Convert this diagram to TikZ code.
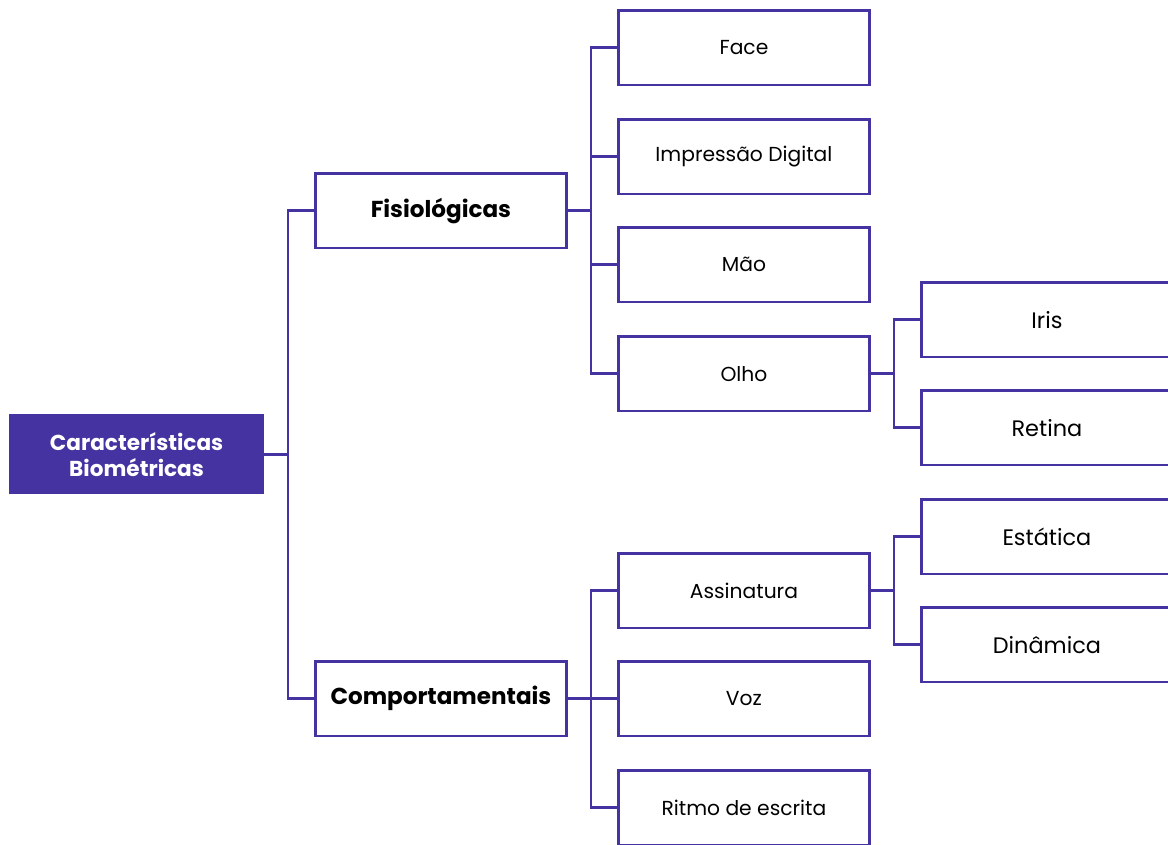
\documentclass[tikz,border=0pt]{standalone}
\usepackage{fontspec}
\setmainfont{Poppins}
\definecolor{indigo}{RGB}{68,51,160}
\begin{document}
\begin{tikzpicture}[x=0.75pt,y=-0.75pt,
  box/.style={draw=indigo,line width=1.9pt,fill=white,minimum width=188.5pt,minimum height=56pt,inner sep=0pt,anchor=north west,text=black},
  lvone/.style={box,font=\fontsize{17.3}{20}\selectfont\bfseries},
  lvtwo/.style={box,font=\fontsize{15.2}{18}\selectfont},
  lvthree/.style={box,font=\fontsize{16.8}{20}\selectfont},
  root/.style={fill=indigo,draw=none,minimum width=191pt,minimum height=60pt,inner sep=0pt,anchor=north west,text=white,align=center,font=\fontsize{16.2}{19.5}\selectfont\bfseries},
  conn/.style={draw=indigo,line width=1.9pt}]
\useasboundingbox (0,0) rectangle (1168,844);
\clip (0,0) rectangle (1168,844);
\node[root] (r) at (9,414) {Características\\Biométricas};
\node[lvone] (f) at (314,172) {Fisiológicas};
\node[lvone] (c) at (314,660) {Comportamentais};
\node[lvtwo] (face) at (617,9) {Face};
\node[lvtwo] (imp) at (617,118) {Impressão Digital};
\node[lvtwo] (mao) at (617,226) {Mão};
\node[lvtwo] (olho) at (617,335) {Olho};
\node[lvtwo] (ass) at (617,552) {Assinatura};
\node[lvtwo] (voz) at (617,660) {Voz};
\node[lvtwo] (rit) at (617,769) {Ritmo de escrita};
\node[lvthree] (iris) at (920,281) {Iris};
\node[lvthree] (ret) at (920,389) {Retina};
\node[lvthree] (est) at (920,498) {Estática};
\node[lvthree] (din) at (920,606) {Dinâmica};
\coordinate (b0) at (288,0);
\coordinate (b1) at (591,0);
\coordinate (b2) at (894,0);
\draw[conn] (r.east) -| (b0 |- f.west) -- (f.west);
\draw[conn] (b0 |- r.east) |- (c.west);
\draw[conn] (f.east) -| (b1 |- face.west) -- (face.west);
\draw[conn] (b1 |- f.east) |- (olho.west);
\draw[conn] (b1 |- imp.west) -- (imp.west);
\draw[conn] (b1 |- mao.west) -- (mao.west);
\draw[conn] (c.east) -| (b1 |- ass.west) -- (ass.west);
\draw[conn] (b1 |- c.east) |- (rit.west);
\draw[conn] (b1 |- voz.west) -- (voz.west);
\draw[conn] (olho.east) -| (b2 |- iris.west) -- (iris.west);
\draw[conn] (b2 |- olho.east) |- (ret.west);
\draw[conn] (ass.east) -| (b2 |- est.west) -- (est.west);
\draw[conn] (b2 |- ass.east) |- (din.west);
\end{tikzpicture}
\end{document}
